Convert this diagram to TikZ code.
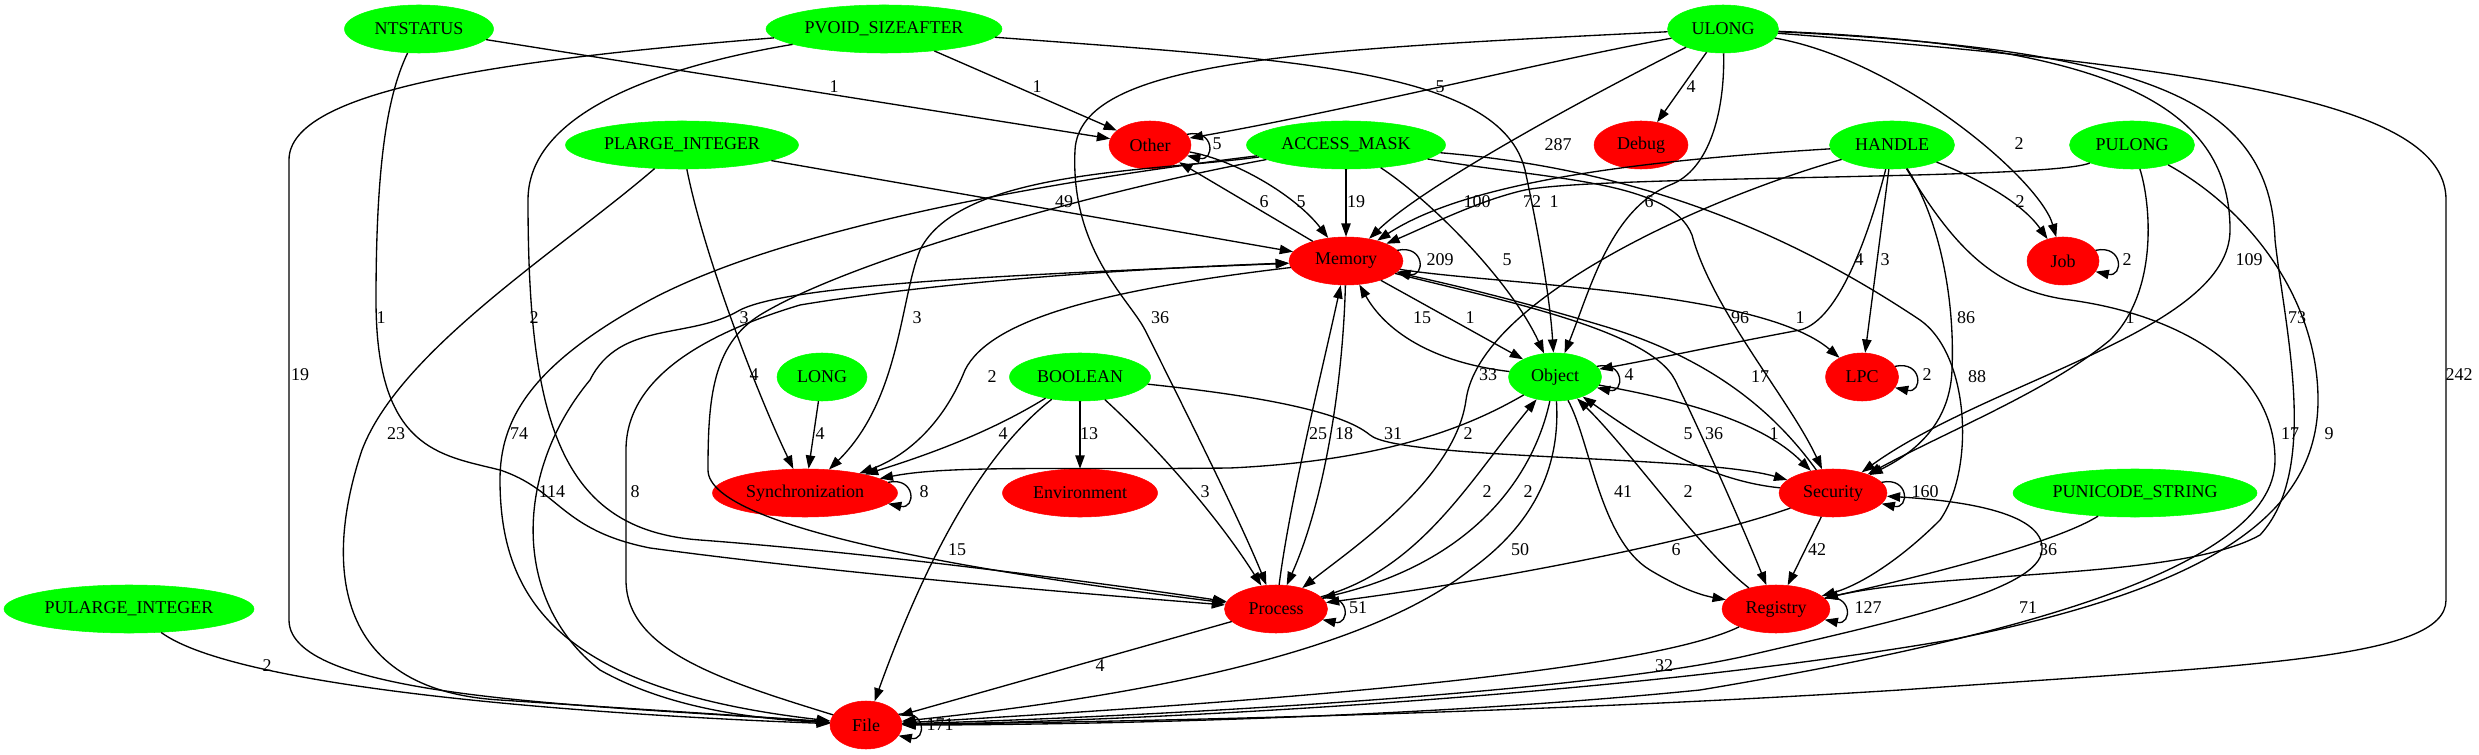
\documentclass[tikz,border=0pt]{standalone}
\usepackage{fontspec}
\setmainfont{Liberation Serif}
\usetikzlibrary{shapes.geometric,arrows.meta}
\definecolor{gvgreen}{RGB}{0,255,0}
\definecolor{gvred}{RGB}{255,0,0}
\begin{document}
\begin{tikzpicture}[x=0.75pt,y=-0.75pt,
  gnode/.style={ellipse,fill=gvgreen,draw=gvgreen,inner sep=0pt,minimum height=36pt,font=\fontsize{13.5}{14}\selectfont},
  rnode/.style={ellipse,fill=gvred,draw=gvred,inner sep=0pt,minimum height=36pt,font=\fontsize{13.5}{14}\selectfont},
  ed/.style={line width=1pt,-{Triangle[length=10pt,width=7pt]}},
  lbl/.style={inner sep=0pt,font=\fontsize{13.5}{14}\selectfont}]
\fill[white] (0,0) rectangle (2479,755);
\useasboundingbox (0,0) rectangle (2479,755);
% nodes
\node[gnode,minimum width=111.75pt] (NT) at (419,29) {NTSTATUS};
\node[gnode,minimum width=177pt] (PV) at (884,29) {PVOID\_SIZEAFTER};
\node[gnode,minimum width=83.25pt] (UL) at (1723,29) {ULONG};
\node[gnode,minimum width=174.75pt] (PL) at (682,145) {PLARGE\_INTEGER};
\node[rnode,minimum width=61.5pt] (OT) at (1150,145) {Other};
\node[gnode,minimum width=149.25pt] (AM) at (1346,145) {ACCESS\_MASK};
\node[rnode,minimum width=70.5pt] (DB) at (1641,145) {Debug};
\node[gnode,minimum width=93.75pt] (HA) at (1892,145) {HANDLE};
\node[gnode,minimum width=93.75pt] (PU) at (2132,145) {PULONG};
\node[rnode,minimum width=85.5pt] (ME) at (1346,261) {Memory};
\node[rnode,minimum width=54pt] (JOB) at (2063,261) {Job};
\node[gnode,minimum width=67.5pt] (LO) at (822,377) {LONG};
\node[gnode,minimum width=105.75pt] (BO) at (1080,377) {BOOLEAN};
\node[gnode,minimum width=69.75pt] (OB) at (1555,377) {Object};
\node[rnode,minimum width=54.75pt] (LPC) at (1862,377) {LPC};
\node[rnode,minimum width=138.75pt] (SY) at (805,493) {Synchronization};
\node[rnode,minimum width=116.25pt] (EN) at (1080,493) {Environment};
\node[rnode,minimum width=81pt] (SE) at (1833,493) {Security};
\node[gnode,minimum width=183pt] (PUS) at (2135,493) {PUNICODE\_STRING};
\node[gnode,minimum width=187.5pt] (PUL) at (129,609) {PULARGE\_INTEGER};
\node[rnode,minimum width=77.25pt] (PR) at (1276,609) {Process};
\node[rnode,minimum width=81pt] (RE) at (1776,609) {Registry};
\node[rnode,minimum width=54pt] (FI) at (866,725) {File};
% edges, top
\draw[ed] (NT) -- (OT);
\draw[ed] (PV) -- (OT);
\draw[ed] (UL) .. controls (1550,60) and (1350,110) .. (OT);
\draw[ed] (UL) -- (DB);
\draw[ed] (UL) .. controls (1620,80) and (1430,180) .. (ME);
\draw[ed] (UL) .. controls (1900,60) and (2040,180) .. (JOB);
\draw[ed] (PL) -- (ME);
\draw[ed] (ME) -- (OT);
\draw[ed] (OT) .. controls (1235,160) and (1295,195) .. (ME);
\draw[ed] (AM) -- (ME);
\draw[ed] (HA) .. controls (1650,160) and (1470,180) .. (ME);
\draw[ed] (PU) .. controls (2050,180) and (1600,175) .. (1525,190) .. controls (1480,200) and (1430,225) .. (ME);
\draw[ed] (PV) .. controls (1300,60) and (1500,70) .. (1525,170) .. controls (1540,240) and (1550,300) .. (OB);
\draw[ed] (UL) .. controls (1725,110) and (1710,170) .. (1670,185) .. controls (1610,210) and (1590,290) .. (OB);
\draw[ed] (HA) .. controls (1970,175) and (2020,200) .. (JOB);
\draw[ed] (AM) .. controls (1430,200) and (1510,280) .. (OB);
\draw[ed] (HA) .. controls (1870,230) and (1840,320) .. (1800,330) .. controls (1720,345) and (1650,360) .. (OB);
\draw[ed] (HA) -- (LPC);
\draw[ed] (UL) .. controls (2100,45) and (2230,100) .. (2230,230) .. controls (2230,330) and (1990,380) .. (SE);
% middle
\draw[ed] (NT) .. controls (390,90) and (376,150) .. (376,300) .. controls (376,450) and (440,455) .. (500,470) .. controls (560,490) and (560,530) .. (650,548) .. controls (850,575) and (1100,595) .. (PR);
\draw[ed] (PV) .. controls (700,60) and (528,100) .. (528,200) .. controls (528,420) and (560,530) .. (700,540) .. controls (900,555) and (1150,590) .. (PR);
\draw[ed] (PL) .. controls (705,260) and (760,400) .. (SY);
\draw[ed] (AM) .. controls (1150,172) and (960,170) .. (920,250) .. controls (900,300) and (900,400) .. (SY);
\draw[ed] (UL) .. controls (1300,50) and (1080,60) .. (1075,150) .. controls (1070,250) and (1130,300) .. (1145,330) .. controls (1180,400) and (1240,520) .. (PR);
\draw[ed] (OB) .. controls (1430,362) and (1385,330) .. (ME);
\draw[ed] (ME) -- (OB);
\draw[ed] (AM) .. controls (1550,180) and (1670,180) .. (1692,235) .. controls (1712,310) and (1790,400) .. (SE);
\draw[ed] (ME) .. controls (1500,285) and (1760,290) .. (LPC);
\draw[ed] (HA) .. controls (1940,220) and (1955,300) .. (1952,370) .. controls (1950,420) and (1920,450) .. (SE);
\draw[ed] (PU) .. controls (2150,200) and (2160,290) .. (2110,340) .. controls (2050,390) and (1950,430) .. (SE);
\draw[ed] (UL) .. controls (2150,50) and (2270,100) .. (2275,240) .. controls (2285,330) and (2320,470) .. (2260,535) .. controls (2180,580) and (1950,570) .. (RE);
\draw[ed] (PV) .. controls (500,60) and (289,90) .. (289,160) -- (289,620) .. controls (289,700) and (600,705) .. (FI);
\draw[ed] (AM) .. controls (1100,190) and (850,260) .. (760,315) .. controls (712,345) and (708,400) .. (708,470) .. controls (708,530) and (1000,575) .. (PR);
\draw[ed] (ME) .. controls (1100,290) and (990,320) .. (965,370) .. controls (945,420) and (910,455) .. (SY);
\draw[ed] (HA) .. controls (1700,200) and (1480,300) .. (1466,400) .. controls (1455,480) and (1350,550) .. (PR);
\draw[ed] (SE) .. controls (1780,420) and (1720,360) .. (1600,325) .. controls (1500,295) and (1430,280) .. (ME);
\draw[ed] (AM) .. controls (1650,170) and (1800,240) .. (1920,320) .. controls (1970,355) and (1975,470) .. (1940,520) .. controls (1900,560) and (1860,585) .. (RE);
\draw[ed] (UL) .. controls (2250,70) and (2446,110) .. (2446,200) -- (2446,600) .. controls (2446,660) and (2250,665) .. (1900,690) .. controls (1500,715) and (1100,722) .. (FI);
\draw[ed] (PL) .. controls (560,250) and (400,350) .. (362,450) .. controls (325,560) and (330,690) .. (500,700) .. controls (650,710) and (780,718) .. (FI);
\draw[ed] (AM) .. controls (1100,175) and (800,220) .. (650,300) .. controls (530,365) and (500,420) .. (500,480) .. controls (500,600) and (560,690) .. (FI);
\draw[ed] (LO) -- (SY);
\draw[ed] (BO) .. controls (1010,420) and (960,445) .. (SY);
\draw[ed] (BO) -- (EN);
\draw[ed] (PR) .. controls (1290,500) and (1320,380) .. (ME);
\draw[ed] (ME) .. controls (1343,380) and (1325,500) .. (PR);
\draw[ed] (BO) .. controls (1250,395) and (1340,410) .. (1370,435) .. controls (1400,460) and (1700,455) .. (SE);
\draw[ed] (OB) .. controls (1480,420) and (1400,460) .. (1230,468) .. controls (1050,470) and (950,465) .. (SY);
\draw[ed] (SE) .. controls (1700,480) and (1630,430) .. (OB);
\draw[ed] (ME) .. controls (1500,300) and (1650,330) .. (1675,380) .. controls (1695,420) and (1740,520) .. (RE);
\draw[ed] (OB) .. controls (1680,400) and (1760,420) .. (SE);
\draw[ed] (HA) .. controls (1950,240) and (1990,290) .. (2070,300) .. controls (2180,315) and (2275,370) .. (2275,460) .. controls (2275,570) and (2000,640) .. (1700,690) .. controls (1400,720) and (1050,725) .. (FI);
\draw[ed] (PU) .. controls (2250,210) and (2318,300) .. (2318,400) .. controls (2318,520) and (2200,590) .. (1950,640) .. controls (1600,700) and (1100,722) .. (FI);
\draw[ed] (FI) .. controls (780,720) and (680,715) .. (600,670) .. controls (510,600) and (515,470) .. (590,380) .. controls (620,320) and (690,340) .. (740,310) .. controls (790,285) and (1000,275) .. (ME);
\draw[ed] (FI) .. controls (720,680) and (626,650) .. (626,580) -- (626,450) .. controls (626,380) and (700,335) .. (800,305) .. controls (950,280) and (1150,268) .. (ME);
\draw[ed] (BO) .. controls (1160,450) and (1220,520) .. (PR);
\draw[ed] (PR) .. controls (1420,570) and (1470,480) .. (OB);
\draw[ed] (OB) .. controls (1535,470) and (1480,560) .. (PR);
\draw[ed] (OB) .. controls (1590,440) and (1600,540) .. (1650,570) .. controls (1680,588) and (1700,595) .. (RE);
\draw[ed] (RE) .. controls (1700,550) and (1630,450) .. (OB);
\draw[ed] (BO) .. controls (1000,440) and (940,520) .. (FI);
\draw[ed] (OB) .. controls (1560,460) and (1540,520) .. (1470,570) .. controls (1380,640) and (1200,690) .. (FI);
\draw[ed] (SE) .. controls (1700,540) and (1500,580) .. (PR);
\draw[ed] (SE) -- (RE);
\draw[ed] (PUS) .. controls (2060,540) and (1950,570) .. (RE);
\draw[ed] (FI) .. controls (1200,715) and (1600,690) .. (1750,655) .. controls (1900,620) and (2040,590) .. (2042,550) .. controls (2045,510) and (1950,500) .. (SE);
\draw[ed] (PUL) .. controls (240,690) and (600,715) .. (FI);
\draw[ed] (PR) -- (FI);
\draw[ed] (RE) .. controls (1650,670) and (1300,700) .. (FI);
% self loops
\draw[ed] ([xshift=-3.2pt,yshift=8pt]OT.east) .. controls +(28,-6) and +(28,6) .. ([xshift=-3.2pt,yshift=-8pt]OT.east);
\draw[ed] ([xshift=-4.5pt,yshift=8pt]ME.east) .. controls +(28,-6) and +(28,6) .. ([xshift=-4.5pt,yshift=-8pt]ME.east);
\draw[ed] ([xshift=-2.8pt,yshift=8pt]JOB.east) .. controls +(28,-6) and +(28,6) .. ([xshift=-2.8pt,yshift=-8pt]JOB.east);
\draw[ed] ([xshift=-3.7pt,yshift=8pt]OB.east) .. controls +(28,-6) and +(28,6) .. ([xshift=-3.7pt,yshift=-8pt]OB.east);
\draw[ed] ([xshift=-2.9pt,yshift=8pt]LPC.east) .. controls +(28,-6) and +(28,6) .. ([xshift=-2.9pt,yshift=-8pt]LPC.east);
\draw[ed] ([xshift=-7.3pt,yshift=8pt]SY.east) .. controls +(28,-6) and +(28,6) .. ([xshift=-7.3pt,yshift=-8pt]SY.east);
\draw[ed] ([xshift=-4.3pt,yshift=8pt]SE.east) .. controls +(28,-6) and +(28,6) .. ([xshift=-4.3pt,yshift=-8pt]SE.east);
\draw[ed] ([xshift=-4.1pt,yshift=8pt]PR.east) .. controls +(28,-6) and +(28,6) .. ([xshift=-4.1pt,yshift=-8pt]PR.east);
\draw[ed] ([xshift=-4.3pt,yshift=8pt]RE.east) .. controls +(28,-6) and +(28,6) .. ([xshift=-4.3pt,yshift=-8pt]RE.east);
\draw[ed] ([xshift=-2.8pt,yshift=8pt]FI.east) .. controls +(28,-6) and +(28,6) .. ([xshift=-2.8pt,yshift=-8pt]FI.east);
% labels
\node[lbl] (l1) at (834,87) {1};
\node[lbl] (l2) at (1037,87) {1};
\node[lbl] (l3) at (1440,87) {5};
\node[lbl] (l4) at (1691,87) {4};
\node[lbl] (l5) at (1217,144) {5};
\node[lbl] (l6) at (1558,145) {287};
\node[lbl] (l7) at (2019,144) {2};
\node[lbl] (l8) at (1064,202) {49};
\node[lbl] (l9) at (1264,202) {6};
\node[lbl] (l10) at (1301,202) {5};
\node[lbl] (l11) at (1356,202) {19};
\node[lbl] (l12) at (1477,202) {100};
\node[lbl] (l13) at (1532,202) {72};
\node[lbl] (l14) at (1554,202) {1};
\node[lbl] (l15) at (1649,202) {6};
\node[lbl] (l16) at (2020,202) {2};
\node[lbl] (l17) at (1440,260) {209};
\node[lbl] (l18) at (1507,260) {5};
\node[lbl] (l19) at (1859,260) {4};
\node[lbl] (l20) at (1885,260) {3};
\node[lbl] (l21) at (2127,260) {2};
\node[lbl] (l22) at (2249,260) {109};
\node[lbl] (l23) at (381,318) {1};
\node[lbl] (l24) at (534,318) {2};
\node[lbl] (l25) at (744,318) {3};
\node[lbl] (l26) at (917,318) {3};
\node[lbl] (l27) at (1160,318) {36};
\node[lbl] (l28) at (1422,318) {15};
\node[lbl] (l29) at (1470,318) {1};
\node[lbl] (l30) at (1740,318) {96};
\node[lbl] (l31) at (1800,318) {1};
\node[lbl] (l32) at (1966,318) {86};
\node[lbl] (l33) at (2130,318) {1};
\node[lbl] (l34) at (2297,318) {73};
\node[lbl] (l35) at (300,375) {19};
\node[lbl] (l36) at (754,375) {4};
\node[lbl] (l37) at (992,377) {2};
\node[lbl] (l38) at (1488,375) {33};
\node[lbl] (l39) at (1629,375) {4};
\node[lbl] (l40) at (1760,377) {17};
\node[lbl] (l41) at (1927,375) {2};
\node[lbl] (l42) at (1977,377) {88};
\node[lbl] (l43) at (2459,375) {242};
\node[lbl] (l44) at (396,434) {23};
\node[lbl] (l45) at (519,434) {74};
\node[lbl] (l46) at (820,434) {4};
\node[lbl] (l47) at (1003,434) {4};
\node[lbl] (l48) at (1089,434) {13};
\node[lbl] (l49) at (1318,434) {25};
\node[lbl] (l50) at (1344,434) {18};
\node[lbl] (l51) at (1393,434) {31};
\node[lbl] (l52) at (1468,434) {2};
\node[lbl] (l53) at (1688,434) {5};
\node[lbl] (l54) at (1714,434) {36};
\node[lbl] (l55) at (1774,434) {1};
\node[lbl] (l56) at (2290,434) {17};
\node[lbl] (l57) at (2329,434) {9};
\node[lbl] (l58) at (552,492) {114};
\node[lbl] (l59) at (635,492) {8};
\node[lbl] (l60) at (924,492) {8};
\node[lbl] (l61) at (1205,492) {3};
\node[lbl] (l62) at (1487,492) {2};
\node[lbl] (l63) at (1528,492) {2};
\node[lbl] (l64) at (1623,492) {41};
\node[lbl] (l65) at (1688,492) {2};
\node[lbl] (l66) at (1925,492) {160};
\node[lbl] (l67) at (957,550) {15};
\node[lbl] (l68) at (1520,550) {50};
\node[lbl] (l69) at (1676,550) {6};
\node[lbl] (l70) at (1817,550) {42};
\node[lbl] (l71) at (2048,550) {36};
\node[lbl] (l72) at (1358,608) {51};
\node[lbl] (l73) at (1868,608) {127};
\node[lbl] (l74) at (2028,608) {71};
\node[lbl] (l75) at (267,666) {2};
\node[lbl] (l76) at (1100,666) {4};
\node[lbl] (l77) at (1664,666) {32};
\node[lbl] (l78) at (940,725) {171};
\end{tikzpicture}
\end{document}
